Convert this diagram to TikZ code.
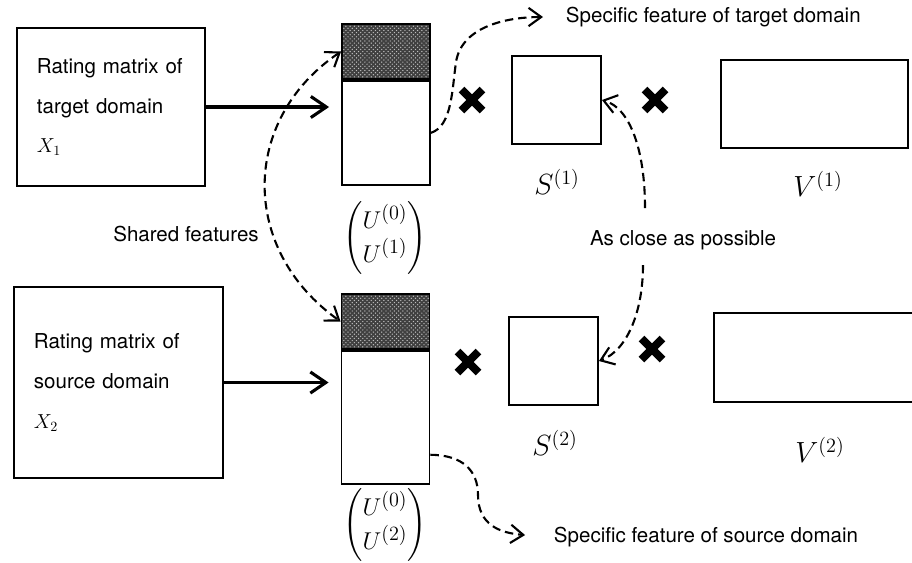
\documentclass[tikz,border=0pt]{standalone}
\usepackage{amsmath}
\usepackage[no-math]{fontspec}
\setmainfont{TeX Gyre Heros}
\usetikzlibrary{arrows.meta,patterns}

\begin{document}
\begin{tikzpicture}[x=0.025cm,y=-0.025cm,
    box/.style={draw,line width=1.3pt,inner sep=0pt},
    shared/.style={box,preaction={fill=black!75},pattern=crosshatch dots,pattern color=white!75!black},
    txt/.style={font=\fontsize{14.6}{17}\selectfont},
    mlabel/.style={font=\fontsize{19}{22.8}\selectfont},
    blabel/.style={font=\fontsize{22}{26}\selectfont},
    big arrow/.style={line width=2.2pt,-{Straight Barb[length=11pt,width=15pt]},shorten >=0.3cm},
    dash arrow/.style={line width=1.5pt,dash pattern=on 6pt off 3.5pt,>={Straight Barb[length=9pt,width=13pt]}},
    cross/.style={line width=5.7pt}]
    \useasboundingbox (0,0) rectangle (912,562);

    % Dessine les matrices de notes
    \node[box,txt,font=\fontsize{14.6}{28.4}\selectfont,text width=3.7cm,inner xsep=0.5cm,minimum height=3.95cm,align=left] (x1) at (111,107) {Rating matrix of\\target domain\\$X_1$};
    \node[box,txt,font=\fontsize{14.6}{28.4}\selectfont,text width=4.225cm,inner xsep=0.5cm,minimum height=4.775cm,align=left] (x2) at (118.5,382.5) {Rating matrix of\\source domain\\$X_2$};

    % Dessine les facteurs U
    \node[shared,minimum width=2.2cm,minimum height=1.375cm] (u1top) at (386,51.5) {};
    \node[box,minimum width=2.2cm,minimum height=2.6cm,anchor=north] (u1bot) at (u1top.south) {};
    \node[shared,minimum width=2.2cm,minimum height=1.375cm] (u2top) at (385.5,321.5) {};
    \node[box,minimum width=2.2cm,minimum height=3.325cm,anchor=north] (u2bot) at (u2top.south) {};
    \node[mlabel] (lu1) at (385,238) {$\begin{pmatrix}U^{(0)}\\U^{(1)}\end{pmatrix}$};
    \node[mlabel] (lu2) at (385,525) {$\begin{pmatrix}U^{(0)}\\U^{(2)}\end{pmatrix}$};

    % Dessine S et V
    \node[box,minimum width=2.225cm,minimum height=2.2cm] (s1) at (556.5,100) {};
    \node[box,minimum width=2.225cm,minimum height=2.2cm] (s2) at (553.5,361) {};
    \node[box,minimum width=4.675cm,minimum height=2.2cm] (v1) at (814.5,104) {};
    \node[box,minimum width=5.3cm,minimum height=2.225cm] (v2) at (820,357.5) {};
    \node[blabel] (ls1) at (557,182) {$S^{(1)}$};
    \node[blabel] (ls2) at (555,443) {$S^{(2)}$};
    \node[blabel] (lv1) at (818,184) {$V^{(1)}$};
    \node[blabel] (lv2) at (820,450) {$V^{(2)}$};

    % Les produits
    \foreach \cx/\cy in {472/100,655/100,468/362,652/349} {
        \draw[cross] (\cx-10.5,\cy-10.5) -- (\cx+10.5,\cy+10.5);
        \draw[cross] (\cx-10.5,\cy+10.5) -- (\cx+10.5,\cy-10.5);
    }

    % Les textes
    \node[txt,anchor=west] (spec1) at (561,17) {Specific feature of target domain};
    \node[txt,anchor=west] (spec2) at (549,537) {Specific feature of source domain};
    \node[txt] (close) at (683,240) {As close as possible};
    \node[txt] (share) at (186,234) {Shared features};
    \coordinate (c1) at (645,208);
    \coordinate (c2) at (643,265);

    % Dessine les flèches
    \draw[big arrow] (x1.east) -- (x1.east -| u1bot.west);
    \draw[big arrow] (x2.east) -- (x2.east -| u2bot.west);
    \draw[dash arrow,<->] (u1top.west) .. controls (240,120) and (240,250) .. (u2top.west);
    \draw[dash arrow,->,shorten >=0.45cm] (u1bot.east) .. controls (452,126) and (452,90) .. (456,62)
        .. controls (462,25) and (510,17) .. (spec1.west);
    \draw[dash arrow,->,shorten >=0.6cm] ([yshift=0.75cm]u2bot.south east) .. controls (462,455) and (478,470) .. (478,495)
        .. controls (478,525) and (500,533) .. (spec2.west);
    \draw[dash arrow,->] (c1) .. controls (645,150) and (630,108) .. (s1.east);
    \draw[dash arrow,->] (c2) .. controls (643,310) and (628,350) .. (s2.east);

\end{tikzpicture}
\end{document}
